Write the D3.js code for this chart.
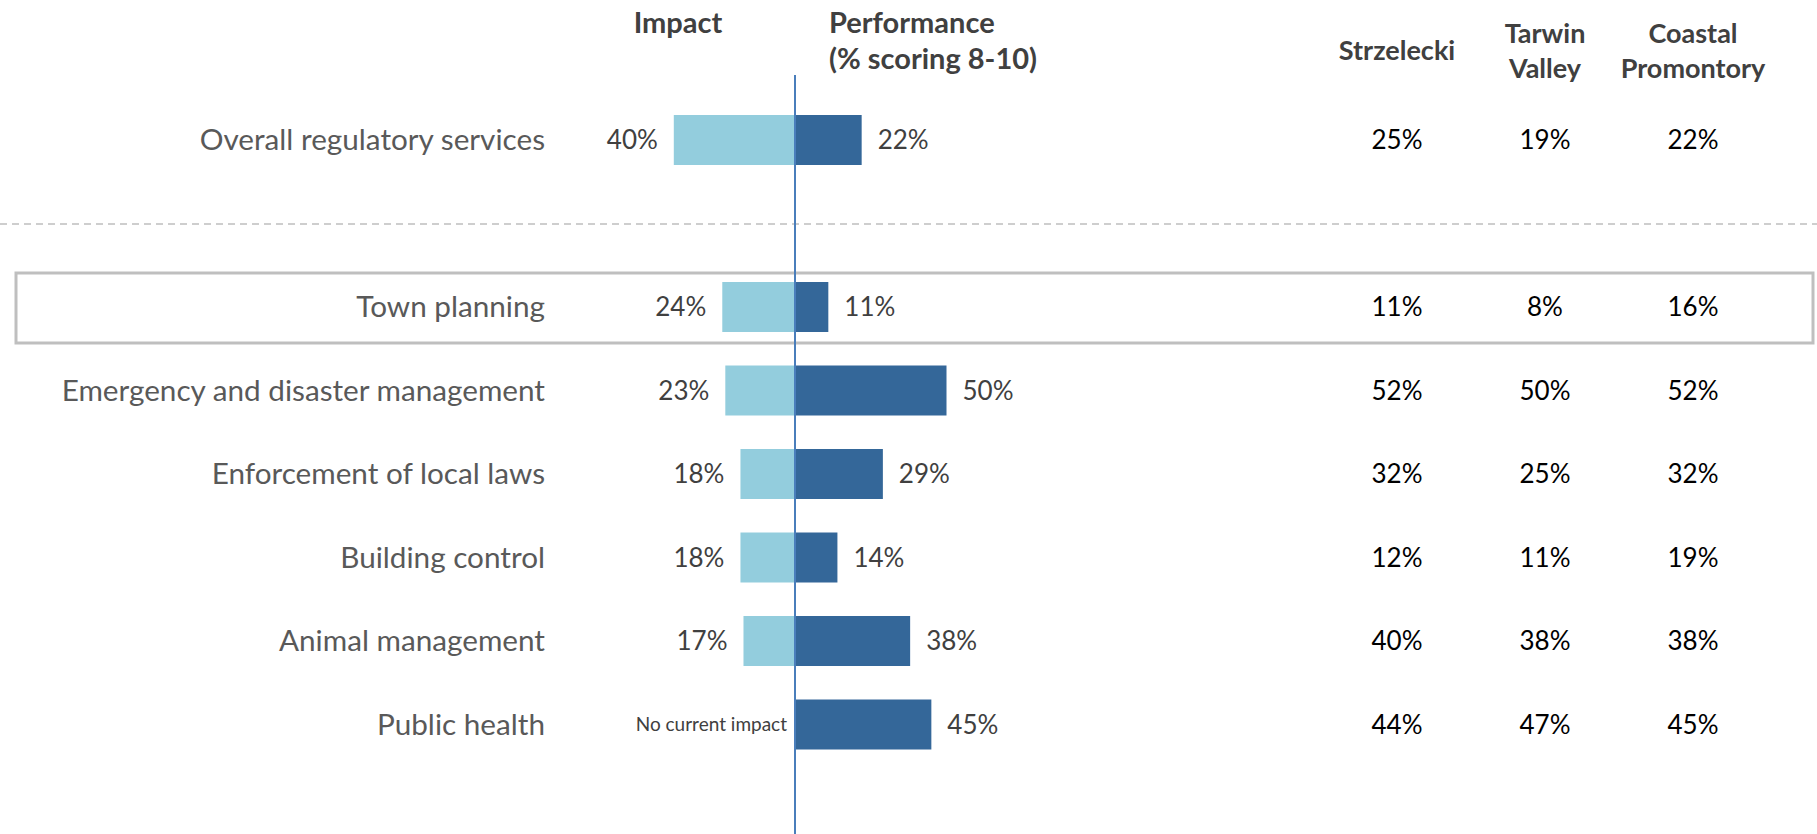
<!DOCTYPE html>
<html><head><meta charset="utf-8">
<script src="https://cdn.jsdelivr.net/npm/d3@7"></script>
<style>body{margin:0;background:#fff}svg{display:block}text{font-family:Lato,"Open Sans",sans-serif}</style>
</head><body>
<svg id="c" width="1817" height="834"></svg>
<script>
const overallLabel = "Overall regulatory services";
const overallImpact = 40;
const overallPerf = 22;
const overallRegions = [25, 19, 22];

const categories = ["Town planning","Emergency and disaster management","Enforcement of local laws","Building control","Animal management","Public health"];
const impact = [24, 23, 18, 18, 17, null];
const performance = [11, 50, 29, 14, 38, 45];
const strzelecki = [11, 52, 32, 12, 40, 44];
const tarwin = [8, 50, 25, 11, 38, 47];
const coastal = [16, 52, 32, 19, 38, 45];
const regionHeaders = [["Strzelecki"], ["Tarwin","Valley"], ["Coastal","Promontory"]];
const noImpactText = "No current impact";

const svg = d3.select("#c");
const cx = 795;
const x = d3.scaleLinear().domain([0, 100]).range([0, 303]);
const y = d3.scalePoint().domain(categories).range([307, 724.5]);
const regX = d3.scalePoint().domain([0,1,2]).range([1397, 1693]);
const barH = 50;
const cImpact = "#93cddd", cPerf = "#346799";

// dashed separator
svg.append("line").attr("x1",0).attr("x2",1817).attr("y1",224).attr("y2",224)
  .attr("stroke","#bfbfbf").attr("stroke-width",1.5).attr("stroke-dasharray","7,5");

// highlight box
svg.append("rect").attr("x",16).attr("y",273).attr("width",1797).attr("height",70)
  .attr("fill","none").attr("stroke","#bfbfbf").attr("stroke-width",3);

// headers
svg.append("text").attr("x",678).attr("y",33).attr("text-anchor","middle")
  .attr("font-weight",700).attr("font-size",29).attr("fill","#404040").text("Impact");
const ph = svg.append("text").attr("font-weight",700).attr("font-size",29).attr("fill","#404040");
ph.append("tspan").attr("x",829).attr("y",33).text("Performance");
ph.append("tspan").attr("x",829).attr("y",69).text("(% scoring 8-10)");

regionHeaders.forEach((lines,i)=>{
  const t = svg.append("text").attr("text-anchor","middle").attr("font-weight",700).attr("font-size",27).attr("fill","#404040");
  const y0 = lines.length===1 ? 60 : 43;
  lines.forEach((l,j)=>t.append("tspan").attr("x",regX(i)).attr("y",y0 + j*35).text(l));
});

function drawRow(label, imp, perf, regs, yc){
  svg.append("text").attr("x",545).attr("y",yc).attr("dy","0.35em").attr("text-anchor","end")
    .attr("font-size",29.7).attr("font-weight",400).attr("fill","#595959").text(label);
  if (imp != null) {
    svg.append("rect").attr("x",cx - x(imp)).attr("y",yc-barH/2).attr("width",x(imp)).attr("height",barH).attr("fill",cImpact);
    svg.append("text").attr("x",cx - x(imp) - 16).attr("y",yc).attr("dy","0.35em").attr("text-anchor","end")
      .attr("font-size",26).attr("fill","#404040").text(imp + "%");
  } else {
    svg.append("text").attr("x",cx - 8).attr("y",yc).attr("dy","0.35em").attr("text-anchor","end")
      .attr("font-size",19).attr("fill","#404040").text(noImpactText);
  }
  svg.append("rect").attr("x",cx).attr("y",yc-barH/2).attr("width",x(perf)).attr("height",barH).attr("fill",cPerf);
  svg.append("text").attr("x",cx + x(perf) + 16).attr("y",yc).attr("dy","0.35em")
    .attr("font-size",26).attr("fill","#404040").text(perf + "%");
  regs.forEach((v,i)=>{
    svg.append("text").attr("x",regX(i)).attr("y",yc).attr("dy","0.35em").attr("text-anchor","middle")
      .attr("font-size",26).attr("fill","#000").text(v + "%");
  });
}

drawRow(overallLabel, overallImpact, overallPerf, overallRegions, 140);
categories.forEach((c,i)=>drawRow(c, impact[i], performance[i], [strzelecki[i], tarwin[i], coastal[i]], y(c)));

// axis line
svg.append("line").attr("x1",cx).attr("x2",cx).attr("y1",75).attr("y2",834)
  .attr("stroke","#4a7ebb").attr("stroke-width",2);
</script>
</body></html>
